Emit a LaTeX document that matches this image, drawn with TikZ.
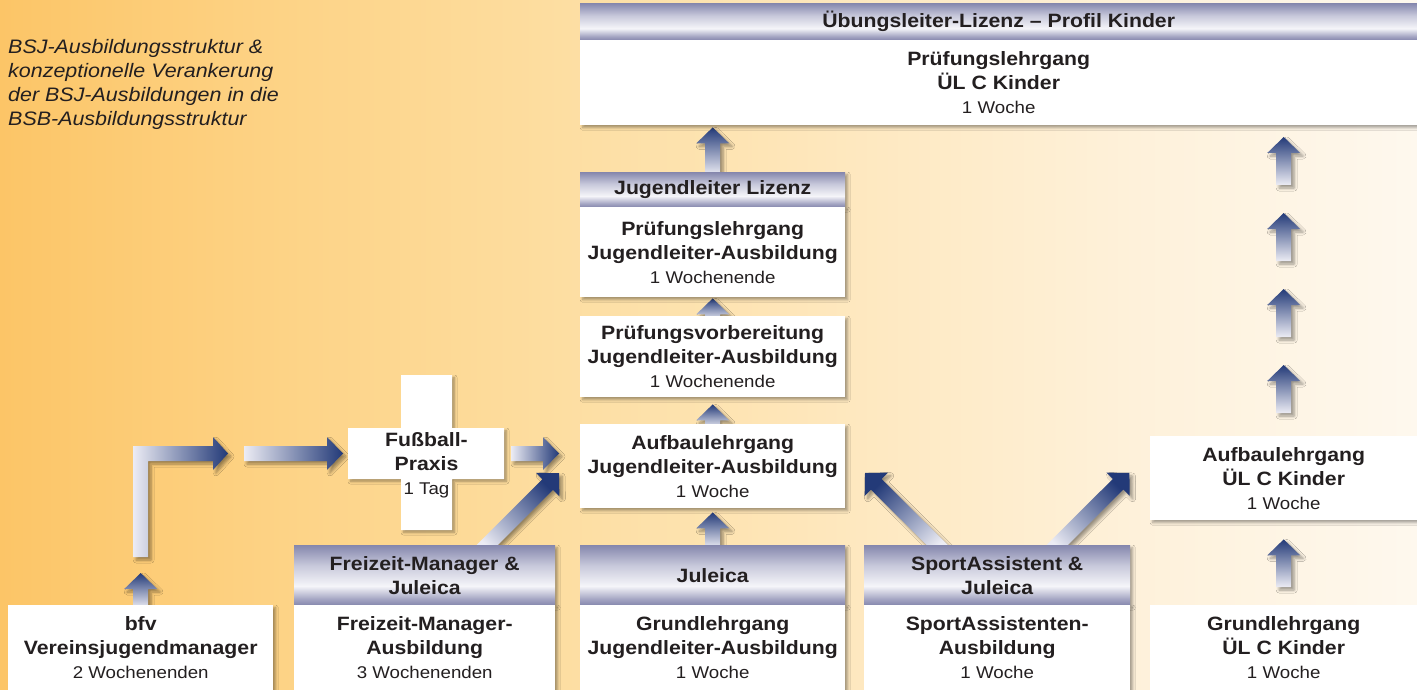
\documentclass[tikz,border=0pt]{standalone}
\usepackage{fontspec}
\setmainfont{Liberation Sans}[FakeStretch=1.1]
\usetikzlibrary{calc,shadows,shadows.blur}
\definecolor{txt}{HTML}{231F20}
\definecolor{arrD}{HTML}{233A78}
\definecolor{arrL}{HTML}{ECECF4}
\definecolor{barD}{HTML}{8587AD}
\definecolor{barM}{HTML}{A3A4C2}
\definecolor{barU}{HTML}{C8C9DB}
\definecolor{barW}{HTML}{F5F5F9}
\definecolor{bgA}{HTML}{FCC567}
\definecolor{bgB}{HTML}{FDD386}
\definecolor{bgC}{HTML}{FDDEA2}
\definecolor{bgD}{HTML}{FEE8BF}
\definecolor{bgE}{HTML}{FEF1DA}
\definecolor{bgF}{HTML}{FEF8EE}
\pgfdeclarehorizontalshading{bgshade}{100bp}{color(0bp)=(bgA); color(25bp)=(bgA); color(35bp)=(bgB); color(45bp)=(bgC); color(55bp)=(bgD); color(65bp)=(bgE); color(75bp)=(bgF); color(100bp)=(bgF)}
\pgfdeclareverticalshading{barshade}{100bp}{color(0bp)=(barD); color(25bp)=(barD); color(30bp)=(barM); color(41bp)=(barW); color(58bp)=(barU); color(75bp)=(barD); color(100bp)=(barD)}
\pgfdeclarelayer{back}
\pgfsetlayers{back,main}
\newcommand\bfnt{\fontsize{19.3}{24}\selectfont\bfseries}
\newcommand\rfnt{\fontsize{17}{24}\selectfont\mdseries}
\newcommand\ifnt{\fontsize{19.5}{24}\selectfont\itshape}
\tikzset{
  every node/.style={text=txt},
  shadowed/.style={blur shadow={shadow xshift=2.5pt,shadow yshift=-2.5pt,shadow blur radius=2.5pt,shadow blur steps=6,shadow opacity=35}},
  bodybox/.style={fill=white, inner sep=0pt, align=center, font=\bfnt, anchor=north west, shadowed},
  barbox/.style={shade, shading=barshade, inner sep=0pt, align=center, font=\bfnt, anchor=north west, shadowed},
  arrowshape/.style={blur shadow={shadow xshift=3pt,shadow yshift=-3pt,shadow blur radius=3pt,shadow blur steps=6,shadow opacity=40}},
  upshade/.style={top color=arrD, bottom color=arrL},
  rightshade/.style={left color=arrL, right color=arrD},
  urshade/.style={top color=arrD, bottom color=arrL, shading angle=-45},
  ulshade/.style={top color=arrD, bottom color=arrL, shading angle=45},
}
\newcommand\blockarrow[3]{%
  \coordinate (bahead) at ($(#3)!16pt!(#2)$);
  \path[arrowshape,#1] ($(#2)!7.5pt!90:(#3)$) -- ($(bahead)!7.5pt!90:(#3)$) -- ($(bahead)!16.5pt!90:(#3)$) -- (#3) -- ($(bahead)!16.5pt!-90:(#3)$) -- ($(bahead)!7.5pt!-90:(#3)$) -- ($(#2)!7.5pt!-90:(#3)$) -- cycle;}
\begin{document}
\begin{tikzpicture}[x=1pt,y=1pt]
\useasboundingbox (0,0) rectangle (1417,-690);
% title
\node[font=\ifnt, align=left, anchor=north west, inner sep=0pt] (title) at (8,-39)
  {BSJ-Ausbildungsstruktur \&\\konzeptionelle Verankerung\\der BSJ-Ausbildungen in die\\BSB-Ausbildungsstruktur};
% top box
\node[barbox, minimum width=837pt, minimum height=37pt] (topbar) at (580,-3) {Übungsleiter-Lizenz – Profil Kinder};
\node[bodybox, minimum width=837pt, minimum height=85pt] (topbody) at (580,-40) {Prüfungslehrgang\\ÜL C Kinder\\{\rfnt 1 Woche}};
% middle column
\node[barbox, minimum width=265pt, minimum height=35pt] (jlbar) at (580,-172) {Jugendleiter Lizenz};
\node[bodybox, minimum width=265pt, minimum height=90pt] (jlbody) at (580,-207) {Prüfungslehrgang\\Jugendleiter-Ausbildung\\{\rfnt 1 Wochenende}};
\node[bodybox, minimum width=265pt, minimum height=81pt] (pvbody) at (580,-316) {Prüfungsvorbereitung\\Jugendleiter-Ausbildung\\{\rfnt 1 Wochenende}};
\node[bodybox, minimum width=265pt, minimum height=84pt] (aufjl) at (580,-424) {Aufbaulehrgang\\Jugendleiter-Ausbildung\\{\rfnt 1 Woche}};
\node[barbox, minimum width=265pt, minimum height=60pt] (julbar) at (580,-545) {Juleica};
\node[bodybox, minimum width=265pt, minimum height=85pt] (julbody) at (580,-605) {Grundlehrgang\\Jugendleiter-Ausbildung\\{\rfnt 1 Woche}};
% freizeit
\node[barbox, minimum width=261pt, minimum height=60pt] (fzbar) at (294,-545) {Freizeit-Manager \&\\Juleica};
\node[bodybox, minimum width=261pt, minimum height=85pt] (fzbody) at (294,-605) {Freizeit-Manager-\\Ausbildung\\{\rfnt 3 Wochenenden}};
% sport
\node[barbox, minimum width=266pt, minimum height=60pt] (spbar) at (864,-545) {SportAssistent \&\\Juleica};
\node[bodybox, minimum width=266pt, minimum height=85pt] (spbody) at (864,-605) {SportAssistenten-\\Ausbildung\\{\rfnt 1 Woche}};
% bfv
\node[bodybox, minimum width=265pt, minimum height=85pt] (bfv) at (8,-605) {bfv\\Vereinsjugendmanager\\{\rfnt 2 Wochenenden}};
% right column
\node[bodybox, minimum width=267pt, minimum height=84pt] (aufuel) at (1150,-436) {Aufbaulehrgang\\ÜL C Kinder\\{\rfnt 1 Woche}};
\node[bodybox, minimum width=267pt, minimum height=85pt] (gruel) at (1150,-605) {Grundlehrgang\\ÜL C Kinder\\{\rfnt 1 Woche}};
% cross
\path[fill=white, shadowed] (401,-375) -- (452,-375) -- (452,-428) -- (504,-428) -- (504,-479) -- (452,-479) -- (452,-530) -- (401,-530) -- (401,-479) -- (348,-479) -- (348,-428) -- (401,-428) -- cycle;
\coordinate (crossW) at (348,-453.5);
\coordinate (crossE) at (504,-453.5);
\node[font=\bfnt, align=center, inner sep=0pt] (fpraxis) at (426.5,-465) {Fußball-\\Praxis\\{\rfnt 1 Tag}};
% arrow end points
\coordinate (m1s) at ($(julbar.north)+(0,-3)$);  \coordinate (m1t) at ($(aufjl.south)+(0,-4)$);
\coordinate (m2s) at ($(aufjl.north)+(0,-4)$);   \coordinate (m2t) at ($(pvbody.south)+(0,-7)$);
\coordinate (m3s) at ($(pvbody.north)+(0,-4)$);  \coordinate (m3t) at ($(jlbody.south)+(0,-1)$);
\coordinate (m4s) at ($(jlbar.north)+(0,-3)$);   \coordinate (m4t) at ($(topbody.south -| jlbar.north)+(0,-2)$);
\coordinate (r0s) at ($(gruel.north)+(0,18)$);   \coordinate (r0t) at ($(aufuel.south)+(0,-19)$);
\coordinate (r1s) at ($(aufuel.north)+(0,23)$);  \coordinate (r1t) at ($(aufuel.north)+(0,71)$);
\coordinate (r2s) at ($(aufuel.north)+(0,99)$);  \coordinate (r2t) at ($(aufuel.north)+(0,147)$);
\coordinate (r3s) at ($(aufuel.north)+(0,175)$); \coordinate (r3t) at ($(aufuel.north)+(0,223)$);
\coordinate (r4s) at ($(aufuel.north)+(0,251)$); \coordinate (r4t) at ($(aufuel.north)+(0,299)$);
\coordinate (bs) at ($(bfv.north)+(0,-3)$);      \coordinate (bt) at ($(bfv.north)+(0,32)$);
\coordinate (h2s) at ($(crossW)+(-104,0)$);      \coordinate (h2t) at ($(crossW)+(-5,0)$);
\coordinate (h3s) at ($(crossE)+(7,0)$);         \coordinate (h3t) at ($(aufjl.west |- crossE)+(-21,0)$);
\coordinate (d1s) at ($(fzbar.north)+(54.5,-8)$); \coordinate (d1t) at ($(aufjl.west)+(-21,-7)$);
\coordinate (d2s) at ($(spbar.north)+(-52,-8)$);  \coordinate (d2t) at ($(spbar.north west)+(1,72)$);
\coordinate (d3s) at ($(spbar.north)+(52,-8)$);   \coordinate (d3t) at ($(spbar.north east)+(-1,72)$);
\begin{pgfonlayer}{back}
\shade[shading=bgshade] (0,0) rectangle (1417,-690);
\blockarrow{upshade}{m1s}{m1t}
\blockarrow{upshade}{m2s}{m2t}
\blockarrow{upshade}{m3s}{m3t}
\blockarrow{upshade}{m4s}{m4t}
\blockarrow{upshade}{r0s}{r0t}
\blockarrow{upshade}{r1s}{r1t}
\blockarrow{upshade}{r2s}{r2t}
\blockarrow{upshade}{r3s}{r3t}
\blockarrow{upshade}{r4s}{r4t}
\blockarrow{upshade}{bs}{bt}
\blockarrow{rightshade}{h2s}{h2t}
\blockarrow{rightshade}{h3s}{h3t}
\blockarrow{urshade}{d1s}{d1t}
\blockarrow{ulshade}{d2s}{d2t}
\blockarrow{urshade}{d3s}{d3t}
% L-shaped arrow
\path[arrowshape, rightshade] ($(bfv.north)+(-7.5,48)$) -- ($(crossW)+(-215,7.5)$) -- ($(crossW)+(-135,7.5)$) -- ($(crossW)+(-135,16.5)$) -- ($(crossW)+(-120,0)$) -- ($(crossW)+(-135,-16.5)$) -- ($(crossW)+(-135,-7.5)$) -- ($(crossW)+(-200,-7.5)$) -- ($(bfv.north)+(7.5,48)$) -- cycle;
\end{pgfonlayer}
\end{tikzpicture}
\end{document}
